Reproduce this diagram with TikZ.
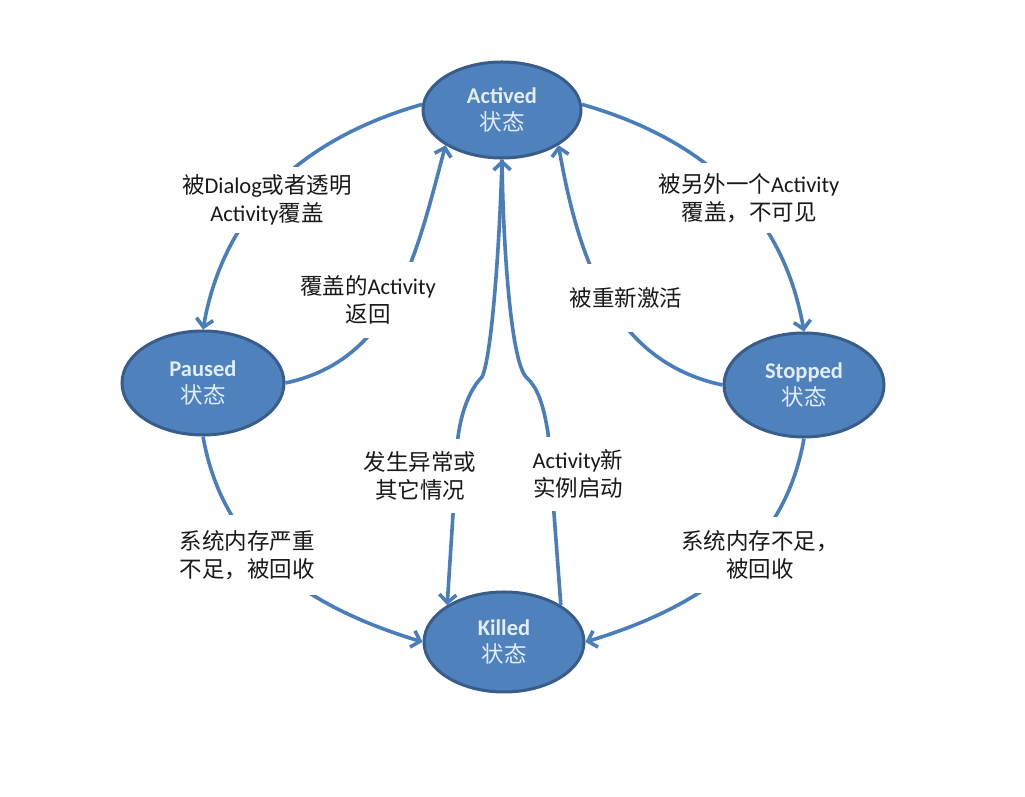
\documentclass[tikz,border=0pt]{standalone}
\usepackage{fontspec}
\setmainfont{Carlito}
\newfontfamily\cjk{Noto Sans CJK SC}
\usetikzlibrary{arrows.meta,shapes.geometric}
\newcommand{\zh}[1]{{\cjk #1}}
\definecolor{fillblue}{RGB}{79,129,189}
\definecolor{edgeblue}{RGB}{56,93,138}
\definecolor{lineblue}{RGB}{74,126,187}
\definecolor{statetext}{RGB}{225,238,250}
\definecolor{labeltext}{RGB}{25,25,25}
\begin{document}
\begin{tikzpicture}[x=1pt,y=1pt,
  stnode/.style={ellipse, draw=edgeblue, line width=3pt, fill=fillblue, text=statetext,
    align=center, font=\fontsize{22.5}{27}\selectfont, inner sep=0pt},
  lab/.style={fill=white, text=labeltext, align=center,
    font=\fontsize{22.5}{28}\selectfont, inner xsep=4pt},
  conn/.style={draw=lineblue, line width=3.6pt},
  arr/.style={conn, -{Straight Barb[length=8pt,width=17pt]}}
]
\fill[white] (0,0) rectangle (1025,797);
\useasboundingbox (0,0) rectangle (1025,797);

% states
\node[stnode, minimum width=158pt, minimum height=96pt] (Act) at (502,687) {\textbf{Actived}\\\zh{状态}};
\node[stnode, minimum width=162pt, minimum height=104pt] (Pau) at (203,414) {\textbf{Paused}\\\zh{状态}};
\node[stnode, minimum width=160pt, minimum height=104pt] (Sto) at (804,412) {\textbf{Stopped}\\\zh{状态}};
\node[stnode, minimum width=160pt, minimum height=100pt] (Kil) at (504,155) {\textbf{Killed}\\\zh{状态}};

% outer connectors
\draw[arr] (Act.176) to[out=196,in=80] (Pau.north);
\draw[arr] (Act.4) to[out=-16,in=100] (Sto.north);
\draw[arr] (Pau.south) to[out=280,in=163] (Kil.west);
\draw[arr] (Sto.south) to[out=260,in=17] (Kil.east);
% inner connectors
\draw[arr] (Pau.east) to[out=12,in=255] (Act.212);
\draw[arr] (Sto.west) to[out=168,in=280] (Act.328);
% central connectors
\draw[arr] (Act.south) .. controls (500,560) and (492,440) .. (482,420)
  .. controls (472,410) and (462,390) .. (458,360) -- (Kil.147);
\draw[arr] (Kil.33) -- (548,364) .. controls (543,395) and (537,410) .. (526,420)
  .. controls (510,438) and (503,560) .. (Act.south);

% labels
\node[lab, inner ysep=8pt] (L1) at (267,597) {\zh{被}Dialog\zh{或者透明}\\Activity\zh{覆盖}};
\node[lab, inner ysep=14pt] (L2) at (368,497) {\zh{覆盖的}Activity\\\zh{返回}};
\node[lab, inner ysep=10pt] (L3) at (749,599) {\zh{被另外一个}Activity\\\zh{覆盖，不可见}};
\node[lab, inner ysep=24pt] (L4) at (626,499) {\zh{被重新激活}};
\node[lab, inner ysep=13pt] (L5) at (420,321) {\zh{发生异常或}\\\zh{其它情况}};
\node[lab, inner ysep=13pt] (L6) at (578,323) {Activity\zh{新}\\\zh{实例启动}};
\node[lab, inner ysep=15pt] (L7) at (247,242) {\zh{系统内存严重}\\\zh{不足，被回收}};
\node[lab, inner ysep=14pt] (L8) at (760,242) {\zh{系统内存不足，}\\\zh{被回收}};
\end{tikzpicture}
\end{document}
